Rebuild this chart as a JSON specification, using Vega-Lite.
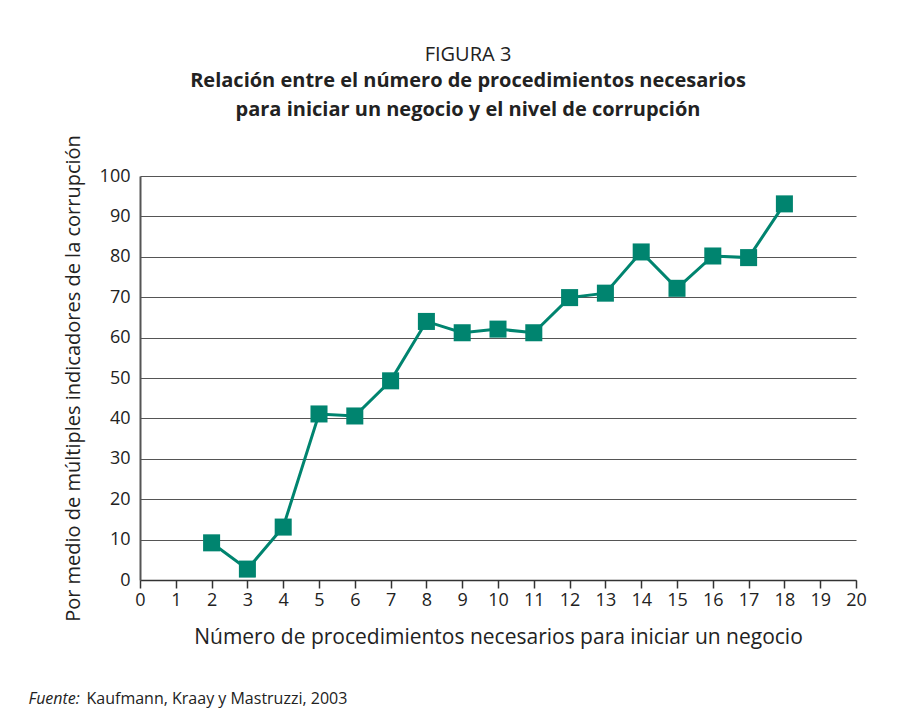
{
  "$schema": "https://vega.github.io/schema/vega-lite/v6.json",
  "width": 716,
  "height": 404,
  "padding": {"left": 28, "top": 44, "right": 10, "bottom": 8},
  "background": "white",
  "title": {
    "text": "FIGURA 3",
    "subtitle": ["Relación entre el número de procedimientos necesarios", "para iniciar un negocio y el nivel de corrupción"],
    "anchor": "middle",
    "frame": "group",
    "dx": -30,
    "font": "Open Sans",
    "fontSize": 20,
    "fontWeight": "normal",
    "color": "#222222",
    "subtitleFont": "Open Sans",
    "subtitleFontSize": 20,
    "subtitleFontWeight": "bold",
    "subtitleColor": "#222222",
    "subtitlePadding": 6,
    "subtitleLineHeight": 29,
    "offset": 15
  },
  "data": {
    "values": [
      {"proc": 2, "val": 9.2},
      {"proc": 3, "val": 2.7},
      {"proc": 4, "val": 13.1},
      {"proc": 5, "val": 41.1},
      {"proc": 6, "val": 40.6},
      {"proc": 7, "val": 49.3},
      {"proc": 8, "val": 64.0},
      {"proc": 9, "val": 61.2},
      {"proc": 10, "val": 62.1},
      {"proc": 11, "val": 61.2},
      {"proc": 12, "val": 69.9},
      {"proc": 13, "val": 71.0},
      {"proc": 14, "val": 81.2},
      {"proc": 15, "val": 72.2},
      {"proc": 16, "val": 80.2},
      {"proc": 17, "val": 79.8},
      {"proc": 18, "val": 93.1}
    ]
  },
  "encoding": {
    "y": {
      "field": "val", "type": "quantitative",
      "scale": {"domain": [0, 100], "nice": false},
      "axis": {
        "values": [0,10,20,30,40,50,60,70,80,90,100],
        "title": "Por medio de múltiples indicadores de la corrupción",
        "grid": true, "gridColor": "#555555", "gridWidth": 1.2,
        "domainColor": "#555555", "domainWidth": 2,
        "ticks": false,
        "labelFont": "Open Sans", "labelFontSize": 18, "labelColor": "#222222", "labelPadding": 10,
        "titleFont": "Open Sans", "titleFontSize": 20, "titleFontWeight": "normal", "titleColor": "#222222",
        "titlePadding": 16
      }
    }
  },
  "layer": [
    {
      "mark": {"type": "line", "color": "#00846f", "strokeWidth": 3},
      "encoding": {
        "x": {
          "field": "proc", "type": "quantitative",
          "scale": {"domain": [0, 20], "nice": false},
          "axis": {
            "orient": "bottom",
            "values": [0,1,2,3,4,5,6,7,8,9,10,11,12,13,14,15,16,17,18,19,20],
            "title": "Número de procedimientos necesarios para iniciar un negocio",
            "grid": false,
            "domainColor": "#333333", "domainWidth": 1.5,
            "tickColor": "#333333", "tickWidth": 1.5, "tickSize": 8,
            "labelFont": "Open Sans", "labelFontSize": 18, "labelColor": "#222222", "labelPadding": 3,
            "labelFlush": false,
            "titleFont": "Open Sans", "titleFontSize": 21, "titleFontWeight": "normal", "titleColor": "#222222",
            "titlePadding": 17
          }
        }
      }
    },
    {
      "mark": {"type": "point", "shape": "square", "filled": true, "color": "#00846f", "opacity": 1, "size": 290},
      "encoding": {
        "x": {"field": "proc", "type": "quantitative", "axis": null}
      }
    },
    {
      "mark": {"type": "point", "opacity": 0},
      "encoding": {
        "x": {
          "field": "proc", "type": "quantitative",
          "axis": {
            "orient": "bottom",
            "domain": false, "ticks": false, "labels": false, "grid": false,
            "title": "Fuente:",
            "titleFont": "Open Sans", "titleFontSize": 16, "titleFontStyle": "italic", "titleFontWeight": "normal",
            "titleColor": "#222222",
            "titleAnchor": "start", "titleAlign": "left", "titleBaseline": "alphabetic",
            "titleX": -112, "titleY": 123
          }
        }
      }
    },
    {
      "mark": {"type": "point", "opacity": 0},
      "encoding": {
        "x": {
          "field": "proc", "type": "quantitative",
          "axis": {
            "orient": "bottom",
            "domain": false, "ticks": false, "labels": false, "grid": false,
            "title": "Kaufmann, Kraay y Mastruzzi, 2003",
            "titleFont": "Open Sans", "titleFontSize": 16, "titleFontWeight": "normal",
            "titleColor": "#222222",
            "titleAnchor": "start", "titleAlign": "left", "titleBaseline": "alphabetic",
            "titleX": -54, "titleY": 123
          }
        }
      }
    }
  ],
  "resolve": {"axis": {"x": "independent"}},
  "config": {
    "view": {"stroke": null}
  }
}
